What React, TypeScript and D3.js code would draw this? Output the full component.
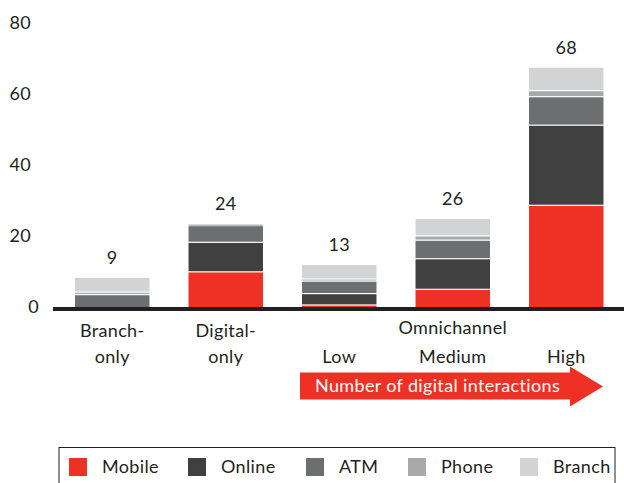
import React from "react";
import * as d3 from "d3";

const categories = ["Branch-only", "Digital-only", "Low", "Medium", "High"];
const categoryLines: string[][] = [
  ["Branch-", "only"],
  ["Digital-", "only"],
  ["", "Low"],
  ["Omnichannel", "Medium"],
  ["", "High"],
];
const seriesNames = ["Mobile", "Online", "ATM", "Phone", "Branch"];
const mobile = [0, 9.7, 0.4, 4.8, 28.4];
const online = [0, 8.3, 3.2, 8.6, 22.5];
const atm = [3.3, 4.7, 3.5, 5.2, 8.0];
const phone = [0.7, 0.3, 0.6, 1.2, 1.7];
const branch = [4.2, 0.3, 4.1, 4.9, 6.6];
const totals = [9, 24, 13, 26, 68];
const yTicks = [0, 20, 40, 60, 80];
const arrowLabel = "Number of digital interactions";

const colors = ["#EE3124", "#404040", "#6D6E70", "#A7A9AC", "#D1D3D4"];
const FONT = "'Century Gothic', Lato, 'DejaVu Sans', sans-serif";
const LS = 0.35;

export default function App() {
  const W = 624;
  const H = 483;
  const series = [mobile, online, atm, phone, branch];
  const rows = categories.map((c, i) => {
    const r: any = { cat: c };
    seriesNames.forEach((s, k) => (r[s] = series[k][i]));
    return r;
  });
  const stacked = d3.stack<any>().keys(seriesNames)(rows);

  const x = d3
    .scaleBand<string>()
    .domain(categories)
    .range([55.5, 623])
    .paddingInner(0.344)
    .paddingOuter(0.172);
  const y = d3.scaleLinear().domain([0, 80]).range([307, 22.2]);

  const legendX = [69, 188, 306, 408, 520];

  return (
    <svg
      width={W}
      height={H}
      style={{ position: "absolute", left: 0, top: 0, background: "#fff" }}
      fontFamily={FONT}
    >
      {/* y tick labels */}
      {yTicks.map((t) => (
        <text
          key={t}
          x={t === 0 ? 39 : 31}
          y={y(t)}
          dy="0.35em"
          textAnchor="end"
          fontSize={18}
          letterSpacing={LS}
          fill="#231F20"
        >
          {t}
        </text>
      ))}

      {/* bars */}
      {stacked.map((layer, k) =>
        layer.map((d, i) => {
          const y0 = y(d[0]);
          const y1 = y(d[1]);
          const h = y0 - y1 - (k > 0 && d[0] > 0 ? 1.2 : 0);
          if (d[1] - d[0] <= 0) return null;
          return (
            <rect
              key={`${k}-${i}`}
              x={x(categories[i])}
              y={y1}
              width={x.bandwidth()}
              height={Math.max(h, 0.8)}
              fill={colors[k]}
            />
          );
        })
      )}

      {/* total labels */}
      {categories.map((c, i) => {
        const top = d3.sum(series, (s) => s[i]);
        return (
          <text
            key={c}
            x={x(c)! + x.bandwidth() / 2}
            y={y(top) - 14}
            textAnchor="middle"
            fontSize={18}
            letterSpacing={LS}
            fill="#231F20"
          >
            {totals[i]}
          </text>
        );
      })}

      {/* baseline */}
      <rect x={53} y={307} width={W - 53} height={4} fill="#231F20" />

      {/* category labels */}
      {categories.map((c, i) => (
        <g key={c}>
          {categoryLines[i].map((ln, j) =>
            ln ? (
              <text
                key={j}
                x={x(c)! + x.bandwidth() / 2}
                y={j === 0 ? (i === 3 ? 334 : 337) : 363}
                textAnchor="middle"
                fontSize={18}
                letterSpacing={LS}
                fill="#231F20"
              >
                {ln}
              </text>
            ) : null
          )}
        </g>
      ))}

      {/* arrow */}
      <path
        d="M300,372.5 L570,372.5 L570,366.5 L603,386.5 L570,406.5 L570,399.5 L300,399.5 Z"
        fill="#EE3124"
      />
      <text x={315} y={392} fontSize={18} letterSpacing={LS} fill="#fff">
        {arrowLabel}
      </text>

      {/* legend */}
      <rect x={59} y={447.5} width={556} height={40} fill="none" stroke="#231F20" strokeWidth={1} />
      {seriesNames.map((s, k) => (
        <g key={s}>
          <rect x={legendX[k]} y={458} width={18} height={18} fill={colors[k]} />
          <text x={legendX[k] + 33} y={473} fontSize={18} letterSpacing={LS} fill="#231F20">
            {s}
          </text>
        </g>
      ))}
    </svg>
  );
}
